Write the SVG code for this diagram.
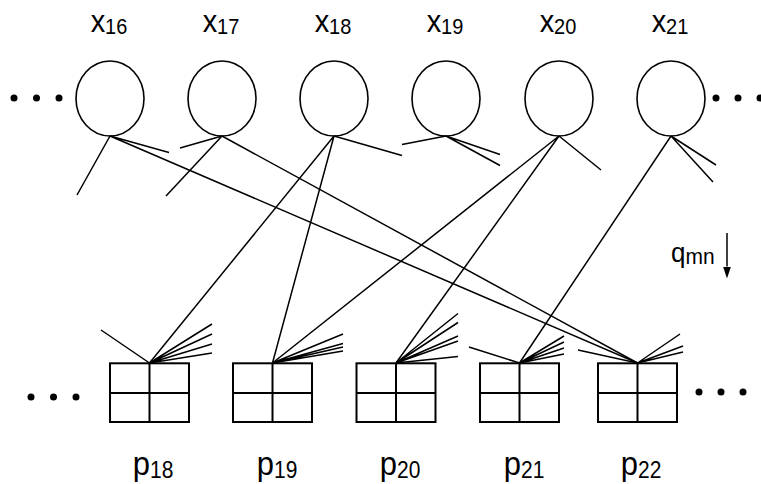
<svg xmlns="http://www.w3.org/2000/svg" width="761" height="484" viewBox="0 0 761 484">
  <style>
    .var { fill: none; stroke: #000; stroke-width: 1.6; }
    .chk { fill: none; stroke: #000; stroke-width: 2; }
    .edge { fill: none; stroke: #000; stroke-width: 1.5; stroke-linecap: butt; }
    .dot { fill: #000; }
    .lbl { font-family: "Liberation Sans", Arial, sans-serif; fill: #000; }
  </style>
  <defs>
    <!-- arrowhead drawn along +x so orient="auto" points it along the line -->
    <marker id="arrowhead" markerWidth="12" markerHeight="8" refX="0" refY="4" orient="auto" markerUnits="userSpaceOnUse" viewBox="0 0 12 8">
      <path d="M0,0 L12,4 L0,8 Z" fill="#000"/>
    </marker>
  </defs>

  <rect width="761" height="484" fill="#fff"/>

  <!-- continuation dots -->
  <g id="ellipsis-top-left"><circle class="dot" cx="14" cy="98" r="3.5"/><circle class="dot" cx="36.5" cy="98" r="3.5"/><circle class="dot" cx="59" cy="98" r="3.5"/></g>
  <g id="ellipsis-top-right"><circle class="dot" cx="716" cy="98" r="3.5"/><circle class="dot" cx="738" cy="98" r="3.5"/><circle class="dot" cx="760" cy="98" r="3.5"/></g>
  <g id="ellipsis-bottom-left"><circle class="dot" cx="31" cy="397" r="3.5"/><circle class="dot" cx="53.5" cy="397" r="3.5"/><circle class="dot" cx="76" cy="397" r="3.5"/></g>
  <g id="ellipsis-bottom-right"><circle class="dot" cx="699" cy="392" r="3.5"/><circle class="dot" cx="721" cy="392" r="3.5"/><circle class="dot" cx="743" cy="392" r="3.5"/></g>

  <!-- connectors: variable nodes (ellipse bottoms) to check nodes (box tops) -->
  <g id="connectors" class="edge">
    <!-- x16 -->
    <path d="M110,136 L77,195 M110,136 L169,152.5 M110,136 L637.5,363"/>
    <!-- x17 -->
    <path d="M222,136 L180,148 M222,136 L166,196 M222,136 L637.5,363"/>
    <!-- x18 -->
    <path d="M334,136 L402,155.5 M334,136 L149.5,363 M334,136 L272.5,363"/>
    <!-- x19 -->
    <path d="M446,136 L402,144.5 M446,136 L500,154.5 M446,136 L500,165.5"/>
    <!-- x20 -->
    <path d="M559,136 L272.5,363 M559,136 L396,363 M559,136 L601,170"/>
    <!-- x21 -->
    <path d="M671,136 L519.5,363 M671,136 L716,165 M671,136 L713,182"/>
    <!-- p18 -->
    <path d="M149.5,363 L101,330 M149.5,363 L212,324 M149.5,363 L212,334 M149.5,363 L212,344 M149.5,363 L212,353"/>
    <!-- p19 -->
    <path d="M272.5,363 L343,334 M272.5,363 L343,343.5 M272.5,363 L343,347 M272.5,363 L343,351"/>
    <!-- p20 -->
    <path d="M396,363 L458,313.5 M396,363 L458,322.5 M396,363 L458,336 M396,363 L458,341 M396,363 L458,356.5"/>
    <!-- p21 -->
    <path d="M519.5,363 L469,347 M519.5,363 L564,336 M519.5,363 L564,342 M519.5,363 L564,348 M519.5,363 L564,354"/>
    <!-- p22 -->
    <path d="M637.5,363 L578,350 M637.5,363 L680,334 M637.5,363 L683,346 M637.5,363 L683,352"/>
  </g>

  <!-- variable nodes -->
  <g id="x16">
    <ellipse class="var" cx="110" cy="98.5" rx="34" ry="37.5"/>
    <text class="lbl" text-anchor="middle" transform="translate(109,31.5) scale(1,1.1)"><tspan font-size="29">x</tspan><tspan font-size="20" dy="2.7">16</tspan></text>
  </g>
  <g id="x17">
    <ellipse class="var" cx="222" cy="98.5" rx="34" ry="37.5"/>
    <text class="lbl" text-anchor="middle" transform="translate(221,31.5) scale(1,1.1)"><tspan font-size="29">x</tspan><tspan font-size="20" dy="2.7">17</tspan></text>
  </g>
  <g id="x18">
    <ellipse class="var" cx="334" cy="98.5" rx="34" ry="37.5"/>
    <text class="lbl" text-anchor="middle" transform="translate(333,31.5) scale(1,1.1)"><tspan font-size="29">x</tspan><tspan font-size="20" dy="2.7">18</tspan></text>
  </g>
  <g id="x19">
    <ellipse class="var" cx="446" cy="98.5" rx="34" ry="37.5"/>
    <text class="lbl" text-anchor="middle" transform="translate(445,31.5) scale(1,1.1)"><tspan font-size="29">x</tspan><tspan font-size="20" dy="2.7">19</tspan></text>
  </g>
  <g id="x20">
    <ellipse class="var" cx="559" cy="98.5" rx="34" ry="37.5"/>
    <text class="lbl" text-anchor="middle" transform="translate(558,31.5) scale(1,1.1)"><tspan font-size="29">x</tspan><tspan font-size="20" dy="2.7">20</tspan></text>
  </g>
  <g id="x21">
    <ellipse class="var" cx="671" cy="98.5" rx="34" ry="37.5"/>
    <text class="lbl" text-anchor="middle" transform="translate(670,31.5) scale(1,1.1)"><tspan font-size="29">x</tspan><tspan font-size="20" dy="2.7">21</tspan></text>
  </g>

  <!-- check nodes: 2x2 grids -->
  <g id="p18">
    <rect class="chk" x="110" y="363.3" width="79" height="58.7"/>
    <path class="chk" d="M110,393 H189 M149.5,363.3 V422"/>
    <text class="lbl" text-anchor="middle" transform="translate(153,474.5) scale(1,1.1)"><tspan font-size="31">p</tspan><tspan font-size="21" dy="3.2">18</tspan></text>
  </g>
  <g id="p19">
    <rect class="chk" x="233" y="363.3" width="79" height="58.7"/>
    <path class="chk" d="M233,393 H312 M272.5,363.3 V422"/>
    <text class="lbl" text-anchor="middle" transform="translate(277,474.5) scale(1,1.1)"><tspan font-size="31">p</tspan><tspan font-size="21" dy="3.2">19</tspan></text>
  </g>
  <g id="p20">
    <rect class="chk" x="356.5" y="363.3" width="79" height="58.7"/>
    <path class="chk" d="M356.5,393 H435.5 M396,363.3 V422"/>
    <text class="lbl" text-anchor="middle" transform="translate(400,474.5) scale(1,1.1)"><tspan font-size="31">p</tspan><tspan font-size="21" dy="3.2">20</tspan></text>
  </g>
  <g id="p21">
    <rect class="chk" x="480" y="363.3" width="79" height="58.7"/>
    <path class="chk" d="M480,393 H559 M519.5,363.3 V422"/>
    <text class="lbl" text-anchor="middle" transform="translate(524,474.5) scale(1,1.1)"><tspan font-size="31">p</tspan><tspan font-size="21" dy="3.2">21</tspan></text>
  </g>
  <g id="p22">
    <rect class="chk" x="598" y="363.3" width="79" height="58.7"/>
    <path class="chk" d="M598,393 H677 M637.5,363.3 V422"/>
    <text class="lbl" text-anchor="middle" transform="translate(641,474.5) scale(1,1.1)"><tspan font-size="31">p</tspan><tspan font-size="21" dy="3.2">22</tspan></text>
  </g>

  <!-- message direction annotation -->
  <g id="q-mn">
    <text class="lbl" transform="translate(671,262) scale(1,1.05)"><tspan font-size="26">q</tspan><tspan font-size="21" dy="1.5">mn</tspan></text>
    <line class="edge" x1="727" y1="233" x2="727" y2="266.5" marker-end="url(#arrowhead)"/>
  </g>
</svg>
